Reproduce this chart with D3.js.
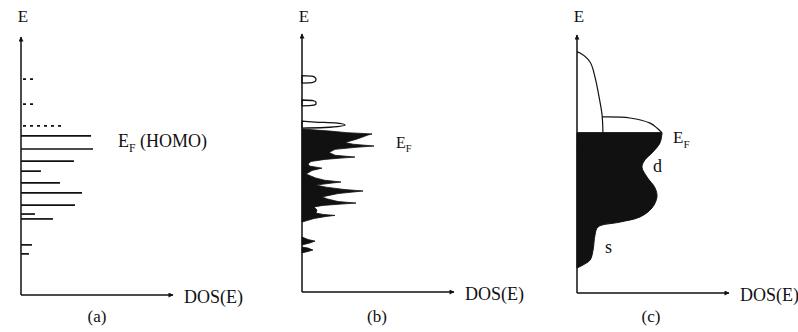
<!DOCTYPE html>
<html>
<head>
<meta charset="utf-8">
<script src="https://cdn.jsdelivr.net/npm/d3@7"></script>
<style>
  body { margin: 0; background: #fff; }
  text { font-family: "Liberation Serif", "DejaVu Serif", serif; fill: #111; }
</style>
</head>
<body>
<svg id="chart"></svg>
<script>
// energy (E) and density of states (DOS), both in arbitrary units 0..100

// (a) discrete molecular levels: [E, DOS]
let levelsOccupied = [
  [61.9, 46.7], [56.8, 48], [52.1, 35.3], [48.2, 13.3], [43.6, 26],
  [39.7, 40.7], [35.0, 36], [31.5, 9.3], [29.6, 21.3], [19.5, 7.3], [16.0, 5.3]
];
let levelsEmpty = [[84.0, 8], [74.3, 8], [65.8, 28]];

// (b) cluster: filled band below E_F, outline from bottom to top [E, DOS]
let clusterFilled = [
  [27.2, 0], [28.6, 8], [29.4, 16], [29.8, 22], [30.2, 14], [30.7, 9.3],
  [31.9, 10], [33.1, 8], [33.7, 14], [34.2, 26], [34.6, 36], [35.2, 24],
  [36.2, 17], [37.0, 13.3], [38.3, 24], [38.9, 34], [39.3, 40.7], [39.9, 28],
  [40.8, 16], [41.6, 9.3], [42.4, 20], [42.8, 26], [43.5, 15], [44.4, 9],
  [45.9, 2.7], [47.3, 6.7], [48.2, 13.3], [49.0, 5], [49.8, 4],
  [50.8, 6], [51.6, 15.3], [52.1, 26], [52.5, 35.3], [53.2, 22], [54.3, 18],
  [55.5, 22], [56.3, 36], [56.8, 48], [57.5, 34], [58.2, 28.7], [59.5, 36.7],
  [61.1, 44], [61.5, 46.7], [62.0, 30], [62.6, 18.7], [63.4, 0.7]
];
let clusterBottom = [
  [[18.3, 0], [19.1, 5.3], [19.8, 8.7], [20.4, 4], [21.4, 0]],
  [[15.2, 0], [15.8, 4], [16.3, 7.3], [17.1, 4], [17.5, 0]]
];
// (b) empty states above E_F, drawn open
let clusterEmpty = [
  [[81.3, 0], [81.5, 6.7], [82.1, 9], [82.9, 9.3], [83.5, 8.7], [84.0, 6.7], [84.2, 0]],
  [[72.4, 0], [72.6, 6.7], [73.2, 9.3], [73.9, 9.3], [74.5, 7.3], [74.7, 0]],
  [[63.8, 0], [64.0, 15.3], [65.0, 28.7], [65.8, 22], [66.1, 8.7], [66.5, 0]]
];

// (c) metal bands
let fermiC = 62.3;
let sBandTop = [[93.8, 0], [93.4, 2], [89.9, 8.7], [84.0, 12], [76.3, 14.7], [69.3, 16.7], [62.3, 17.3]];
let dBandTop = [[68.5, 16.7], [68.1, 35.3], [66.1, 48.7], [64.2, 53.3], [62.3, 56.7]];
let metalFilled = [
  [62.3, 56.7], [58.4, 55.3], [54.5, 50], [51.8, 45.3], [49.0, 43.3], [45.1, 46.7],
  [40.9, 52], [37.4, 53.3], [33.1, 50], [29.6, 42], [27.6, 28.7], [25.7, 14],
  [22.6, 12], [16.7, 10.7], [12.8, 8.7], [10.9, 4], [9.7, 0]
];

let width = 798;
let height = 332;
let ink = "#111";

let svg = d3.select("#chart")
  .attr("width", width)
  .attr("height", height);

let defs = svg.append("defs");
defs.append("marker")
  .attr("id", "arrow")
  .attr("viewBox", "0 0 10 10")
  .attr("refX", 9).attr("refY", 5)
  .attr("markerWidth", 7).attr("markerHeight", 5)
  .attr("markerUnits", "userSpaceOnUse")
  .attr("orient", "auto")
  .append("path")
    .attr("d", "M0,0L10,5L0,10Z")
    .attr("fill", ink);

// panel origins in pixels (where the two axes meet)
let panels = [
  { ox: 21, oy: 295, label: "(a)", lx: 97 },
  { ox: 302, oy: 292, label: "(b)", lx: 377 },
  { ox: 577, oy: 293, label: "(c)", lx: 651 }
];

function makeScales(p) {
  let x = d3.scaleLinear().domain([0, 100]).range([p.ox, p.ox + 150]);
  let y = d3.scaleLinear().domain([0, 100]).range([p.oy, p.oy - 257]);
  return { x, y };
}

function drawAxes(p) {
  svg.append("line")
    .attr("x1", p.ox).attr("y1", p.oy)
    .attr("x2", p.ox).attr("y2", p.oy - 258)
    .attr("stroke", ink).attr("stroke-width", 1.5)
    .attr("marker-end", "url(#arrow)");
  svg.append("line")
    .attr("x1", p.ox).attr("y1", p.oy)
    .attr("x2", p.ox + 152).attr("y2", p.oy)
    .attr("stroke", ink).attr("stroke-width", 1.5)
    .attr("marker-end", "url(#arrow)");
  svg.append("text")
    .attr("x", p.ox + 2).attr("y", 22)
    .attr("text-anchor", "middle")
    .attr("font-size", 17)
    .text("E");
  svg.append("text")
    .attr("x", p.ox + 163).attr("y", p.oy + 8)
    .attr("font-size", 18)
    .text("DOS(E)");
  svg.append("text")
    .attr("x", p.lx).attr("y", 322)
    .attr("text-anchor", "middle")
    .attr("font-size", 17)
    .text(p.label);
}

function subLabel(x, y, size, main, sub, rest) {
  let t = svg.append("text")
    .attr("x", x).attr("y", y)
    .attr("font-size", size);
  t.append("tspan").text(main);
  t.append("tspan")
    .attr("font-size", size * 0.65)
    .attr("dy", size * 0.28)
    .text(sub);
  if (rest) {
    t.append("tspan")
      .attr("dy", -size * 0.28)
      .text(rest);
  }
}

// area that grows rightwards from the E axis
function bandArea(s, curve) {
  return d3.area()
    .y(d => s.y(d[0]))
    .x0(s.x(0))
    .x1(d => s.x(d[1]))
    .curve(curve);
}

// ---- (a) ----
let pa = panels[0];
let sa = makeScales(pa);
drawAxes(pa);

svg.append("g").selectAll("line")
  .data(levelsOccupied)
  .join("line")
    .attr("x1", sa.x(0))
    .attr("x2", d => sa.x(d[1]))
    .attr("y1", d => sa.y(d[0]))
    .attr("y2", d => sa.y(d[0]))
    .attr("stroke", ink)
    .attr("stroke-width", 1.7);

svg.append("g").selectAll("line")
  .data(levelsEmpty)
  .join("line")
    .attr("x1", sa.x(0) + 2)
    .attr("x2", d => sa.x(d[1]))
    .attr("y1", d => sa.y(d[0]))
    .attr("y2", d => sa.y(d[0]))
    .attr("stroke", ink)
    .attr("stroke-width", 1.7)
    .attr("stroke-dasharray", "3,4");

subLabel(118, 147, 18, "E", "F", " (HOMO)");

// ---- (b) ----
let pb = panels[1];
let sb = makeScales(pb);

svg.append("path")
  .datum(clusterFilled)
  .attr("d", bandArea(sb, d3.curveLinear))
  .attr("fill", ink)
  .attr("stroke", ink)
  .attr("stroke-width", 0.8);

svg.append("g").selectAll("path")
  .data(clusterBottom)
  .join("path")
    .attr("d", bandArea(sb, d3.curveLinear))
    .attr("fill", ink)
    .attr("stroke", ink)
    .attr("stroke-width", 0.8);

svg.append("g").selectAll("path")
  .data(clusterEmpty)
  .join("path")
    .attr("d", bandArea(sb, d3.curveMonotoneY))
    .attr("fill", "#fff")
    .attr("stroke", ink)
    .attr("stroke-width", 1.3);

drawAxes(pb);
subLabel(396, 148, 16, "E", "F");

// ---- (c) ----
let pc = panels[2];
let sc = makeScales(pc);

svg.append("path")
  .datum(metalFilled)
  .attr("d", bandArea(sc, d3.curveCatmullRom))
  .attr("fill", ink)
  .attr("stroke", ink)
  .attr("stroke-width", 1);

let outline = d3.line()
  .y(d => sc.y(d[0]))
  .x(d => sc.x(d[1]))
  .curve(d3.curveCatmullRom);

svg.append("path")
  .datum(sBandTop)
  .attr("d", outline)
  .attr("fill", "none")
  .attr("stroke", ink)
  .attr("stroke-width", 1.2);

svg.append("path")
  .datum(dBandTop)
  .attr("d", outline)
  .attr("fill", "none")
  .attr("stroke", ink)
  .attr("stroke-width", 1.2);

svg.append("line")
  .attr("x1", sc.x(0)).attr("x2", sc.x(metalFilled[0][1]))
  .attr("y1", sc.y(fermiC)).attr("y2", sc.y(fermiC))
  .attr("stroke", ink).attr("stroke-width", 1.2);

drawAxes(pc);
subLabel(673, 143, 17, "E", "F");

svg.append("text")
  .attr("x", 653).attr("y", 172)
  .attr("font-size", 18)
  .text("d");
svg.append("text")
  .attr("x", 605).attr("y", 253)
  .attr("font-size", 18)
  .text("s");
</script>
</body>
</html>
